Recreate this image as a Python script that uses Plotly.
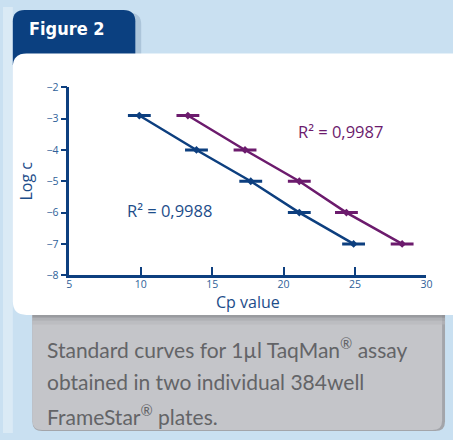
import plotly.graph_objects as go

# ---- data ----
blue_cp = [9.9, 13.9, 17.7, 21.1, 24.9]
blue_logc = [-2.9, -4.0, -5.0, -6.0, -7.0]
purple_cp = [13.3, 17.3, 21.1, 24.4, 28.3]
purple_logc = [-2.9, -4.0, -5.0, -6.0, -7.0]
err_cp = [0.8, 0.8, 0.8, 0.8, 0.8]
x_ticks = [5, 10, 15, 20, 25, 30]
y_ticks = [-8, -7, -6, -5, -4, -3, -2]
r2_blue = "R² = 0,9988"
r2_purple = "R² = 0,9987"

W, H = 453, 440
BLUE = "#0d3f7f"
PURPLE = "#6c1b6d"
LBLUE_BG = "#c9e0f1"


def px(x):
    return x / W


def py(y):
    return 1 - y / H


def rrect(x0, y0, x1, y1, tl, tr, br, bl):
    p = []
    p.append(f"M {px(x0+tl)},{py(y0)}")
    p.append(f"L {px(x1-tr)},{py(y0)}")
    p.append(f"Q {px(x1)},{py(y0)} {px(x1)},{py(y0+tr)}")
    p.append(f"L {px(x1)},{py(y1-br)}")
    p.append(f"Q {px(x1)},{py(y1)} {px(x1-br)},{py(y1)}")
    p.append(f"L {px(x0+bl)},{py(y1)}")
    p.append(f"Q {px(x0)},{py(y1)} {px(x0)},{py(y1-bl)}")
    p.append(f"L {px(x0)},{py(y0+tl)}")
    p.append(f"Q {px(x0)},{py(y0)} {px(x0+tl)},{py(y0)}")
    p.append("Z")
    return " ".join(p)


def shape_path(path, color, opacity=1.0):
    return dict(type="path", xref="paper", yref="paper", path=path,
                fillcolor=color, line=dict(width=0), layer="below", opacity=opacity)


def rect(x0, y0, x1, y1, color, opacity=1.0):
    return dict(type="rect", xref="paper", yref="paper",
                x0=px(x0), x1=px(x1), y0=py(y1), y1=py(y0),
                fillcolor=color, line=dict(width=0), layer="below", opacity=opacity)


shapes = [
    # light left edge glow
    rect(0, 0, 10, 440, "#e6f0f8", 0.6),
    # shadow of tab
    shape_path(rrect(13, 6, 141, 60, 12, 12, 0, 0), "#8fa9c4", 0.5),
    # tab
    shape_path(rrect(10, 3, 135, 60, 12, 12, 0, 0), "#0b4080"),
    # grey caption box
    shape_path(rrect(30, 300, 451, 438, 0, 0, 10, 10), "#a3a5aa"),
    shape_path(rrect(30, 300, 448, 437, 0, 0, 10, 10), "#c4c5c9"),
    # shadow under white panel
    rect(30, 318, 451, 321, "#8e9095", 0.8),
    rect(30, 321, 451, 324, "#a6a8ac", 0.7),
    rect(30, 324, 451, 328, "#b7b8bc", 0.6),
    # white panel
    shape_path(rrect(10, 48, 470, 318, 14, 0, 0, 14), "#ffffff"),
]

fig = go.Figure()

fig.add_trace(go.Scatter(
    x=blue_cp, y=blue_logc, mode="lines+markers",
    line=dict(color=BLUE, width=2.5),
    marker=dict(symbol="diamond", size=6, color=BLUE),
    error_x=dict(type="data", array=err_cp, color=BLUE, thickness=3, width=0),
    showlegend=False, hoverinfo="skip",
))
fig.add_trace(go.Scatter(
    x=purple_cp, y=purple_logc, mode="lines+markers",
    line=dict(color=PURPLE, width=2.5),
    marker=dict(symbol="diamond", size=6, color=PURPLE),
    error_x=dict(type="data", array=err_cp, color=PURPLE, thickness=3, width=0),
    showlegend=False, hoverinfo="skip",
))

CAP = dict(family="Lato", size=21, color="#636467")
annotations = [
    dict(text="<b>Figure 2</b>", x=px(24), y=py(22), xref="paper", yref="paper",
         xanchor="left", yanchor="middle", showarrow=False,
         font=dict(family="DejaVu Sans Condensed", size=18, color="#ffffff")),
    dict(text=r2_purple, x=px(299), y=py(129), xref="paper", yref="paper",
         xanchor="left", yanchor="middle", showarrow=False,
         font=dict(family="Open Sans", size=16.5, color=PURPLE)),
    dict(text=r2_blue, x=px(124), y=py(210), xref="paper", yref="paper",
         xanchor="left", yanchor="middle", showarrow=False,
         font=dict(family="Open Sans", size=16.5, color="#1d4d8a")),
    dict(text="Standard curves for 1µl TaqMan<sup>®</sup> assay", x=px(43), y=py(369),
         xref="paper", yref="paper", xanchor="left", yanchor="bottom", showarrow=False,
         font=CAP),
    dict(text="obtained in two individual 384well", x=px(43), y=py(402),
         xref="paper", yref="paper", xanchor="left", yanchor="bottom", showarrow=False,
         font=CAP),
    dict(text="FrameStar<sup>®</sup> plates.", x=px(43), y=py(438),
         xref="paper", yref="paper", xanchor="left", yanchor="bottom", showarrow=False,
         font=CAP),
]

fig.update_layout(
    width=W, height=H,
    margin=dict(l=0, r=0, t=0, b=0),
    paper_bgcolor=LBLUE_BG,
    plot_bgcolor="rgba(0,0,0,0)",
    shapes=shapes,
    annotations=annotations,
    xaxis=dict(
        domain=[px(67.7), px(432)], range=[5, 30],
        tickvals=x_ticks, ticktext=[str(v) for v in x_ticks],
        ticks="inside", ticklen=8, tickwidth=2, tickcolor=BLUE,
        showline=True, linecolor=BLUE, linewidth=2.5,
        showgrid=False, zeroline=False,
        tickfont=dict(family="Open Sans", size=10.5, color="#2f5f99"),
        ticklabelstandoff=-3,
        title=dict(text="Cp value", font=dict(family="Open Sans", size=16, color="#1d4d8a"),
                   standoff=4),
        fixedrange=True,
    ),
    yaxis=dict(
        domain=[py(277), py(83)], range=[-8, -2],
        tickvals=y_ticks,
        ticks="outside", ticklen=6, tickwidth=2, tickcolor=BLUE,
        showline=True, linecolor=BLUE, linewidth=2.5,
        showgrid=False, zeroline=False,
        tickfont=dict(family="Open Sans", size=10.5, color="#2f5f99"),
        title=dict(text="Log c", font=dict(family="Open Sans", size=16, color="#1d4d8a"),
                   standoff=10),
        fixedrange=True,
    ),
)

fig.write_html("out.html", config={"displayModeBar": False},
               post_script="document.body.style.margin='0';")
